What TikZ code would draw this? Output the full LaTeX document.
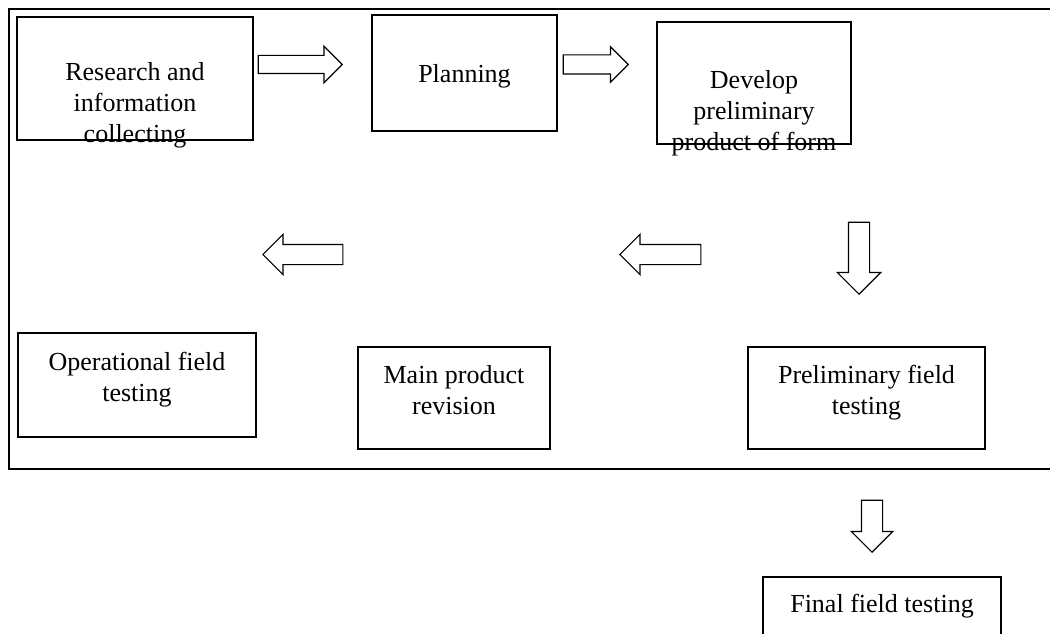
\documentclass[tikz,border=0pt]{standalone}
\usepackage{fontspec}
\setmainfont{Liberation Serif}
\usetikzlibrary{shapes.arrows, positioning}

\tikzset{
  stage/.style={draw, line width=1.5pt, rectangle, inner sep=0pt},
  stagetext/.style={align=center, inner sep=0pt, font=\fontsize{26}{31}\selectfont},
  blockarrow/.style={draw, line width=1.2pt, single arrow, inner xsep=0pt,
    inner ysep=9.5pt, minimum width=39pt, single arrow head extend=10pt, anchor=tip},
}

\begin{document}
\begin{tikzpicture}[x=1pt, y=-1pt]
    \useasboundingbox (0,0) rectangle (1050,634);

    % frame round the first three rows
    \draw[line width=1.5pt] (1060,9) -| (9,469) -- (1060,469);

    \node[stage, minimum width=236pt, minimum height=123pt] (research) at (135,78.5) {};
    \node[stage, minimum width=185pt, minimum height=116pt] (planning) at (464.5,73) {};
    \node[stage, minimum width=194pt, minimum height=122pt] (develop)  at (754,83) {};
    \node[stage, minimum width=238pt, minimum height=104pt] (operational) at (137,385) {};
    \node[stage, minimum width=192pt, minimum height=102pt] (revision) at (454,398) {};
    \node[stage, minimum width=237pt, minimum height=102pt] (prelim)   at (866.5,398) {};
    \node[stage, minimum width=238pt, minimum height=70pt]  (final)    at (882,612) {};

    \node[stagetext] (research-t)    at ([yshift=-27pt]research.center) {Research and\\information\\collecting};
    \node[stagetext] (planning-t)    at ([yshift=-3pt]planning.center) {Planning};
    \node[stagetext] (develop-t)     at ([yshift=-30pt]develop.center) {Develop\\preliminary\\product of form};
    \node[stagetext] (operational-t) at ([yshift=5.5pt]operational.center) {Operational field\\testing};
    \node[stagetext] (revision-t)    at ([yshift=8pt]revision.center) {Main product\\revision};
    \node[stagetext] (prelim-t)      at ([yshift=5.5pt]prelim.center) {Preliminary field\\testing};
    \node[stagetext] (final-t)       at ([yshift=6pt]final.center) {Final field testing};

    % block arrows between the stages, placed by their tips
    \node[blockarrow, minimum height=84pt, minimum width=35pt, inner ysep=8.5pt, single arrow head extend=9pt] (a1) at (343,64.5) {};
    \node[blockarrow, minimum height=65pt, minimum width=35pt, inner ysep=9pt, single arrow head extend=8pt] (a2) at (629,64.5) {};
    \node[blockarrow, minimum height=72pt, minimum width=42pt, inner ysep=10pt, single arrow head extend=11pt, rotate=-90] (a3) at (859,295) {};
    \node[blockarrow, minimum height=81pt, rotate=180] (a4) at (619,254.5) {};
    \node[blockarrow, minimum height=80pt, rotate=180] (a5) at (262,254.5) {};
    \node[blockarrow, minimum height=52pt, minimum width=40pt, inner ysep=10pt, rotate=-90] (a6) at (872,553) {};
\end{tikzpicture}
\end{document}
